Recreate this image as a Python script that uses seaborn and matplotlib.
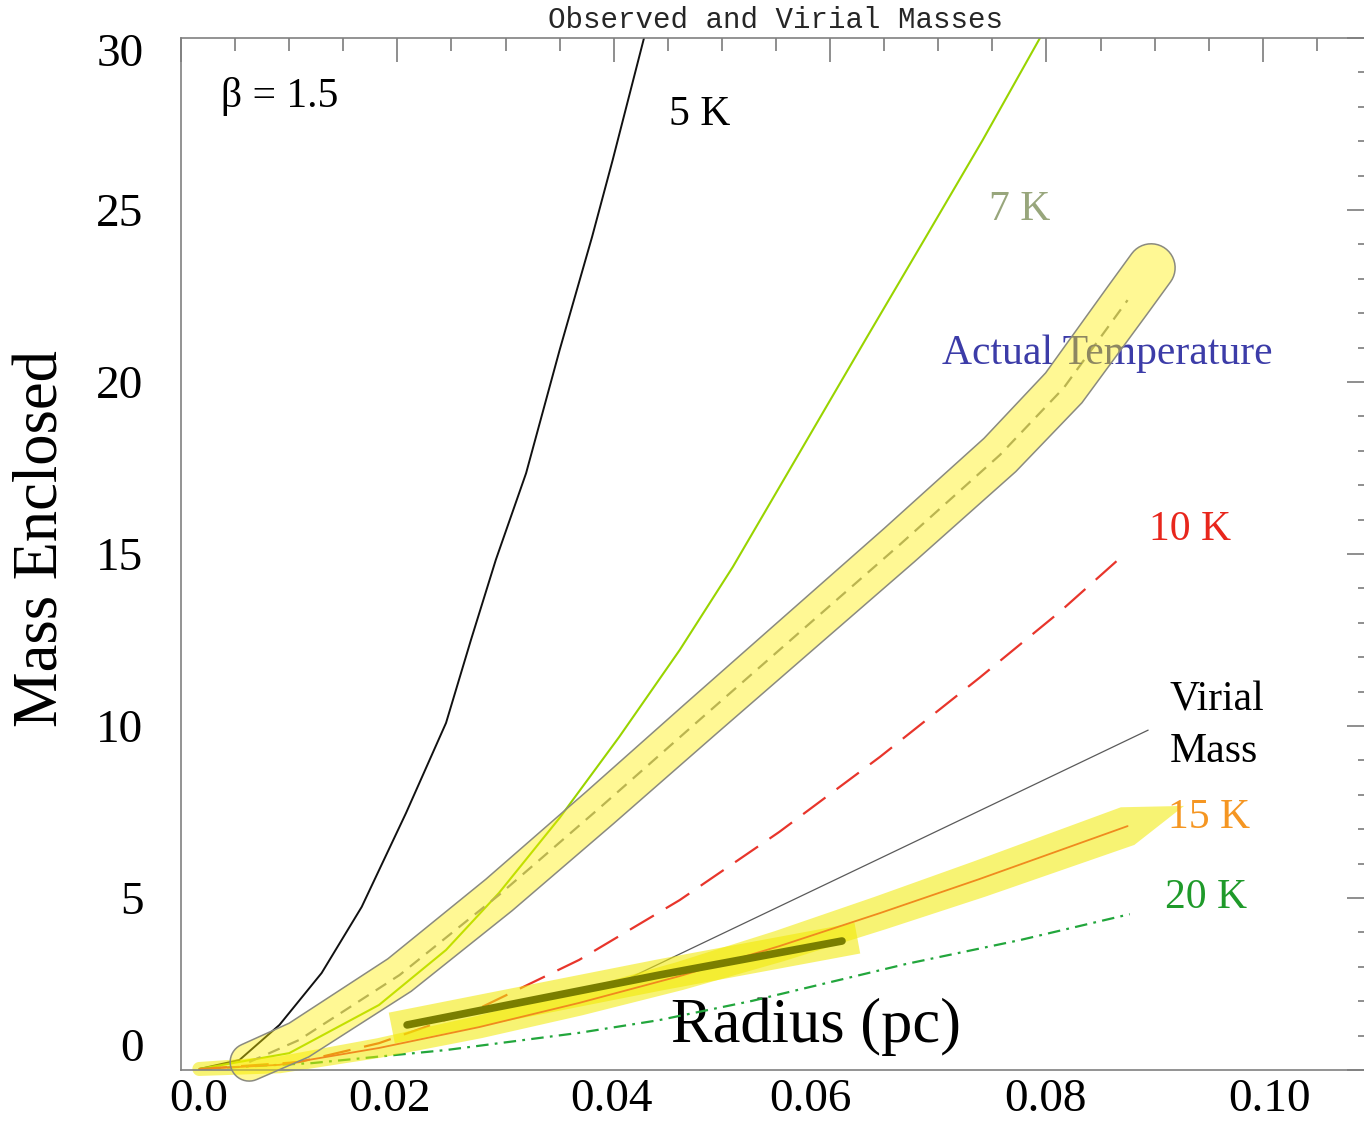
import numpy as np
import pandas as pd
import matplotlib
matplotlib.use("Agg")
import matplotlib.pyplot as plt
import seaborn as sns
from matplotlib.patches import Polygon
from matplotlib.ticker import MultipleLocator
from matplotlib.transforms import ScaledTranslation

# ---- enclosed mass vs radius for several assumed temperatures (beta = 1.5) ----
r_5k = [0.0017, 0.0054, 0.0091, 0.0130, 0.0167, 0.0208, 0.0245, 0.0268, 0.0291, 0.0319, 0.0350, 0.0380, 0.0399, 0.0428]
m_5k = [0.03, 0.29, 1.31, 2.82, 4.74, 7.47, 10.09, 12.50, 14.83, 17.35, 20.93, 24.22, 26.45, 30.0]

r_7k = [0.0017, 0.0100, 0.0183, 0.0245, 0.0294, 0.0350, 0.0405, 0.0461, 0.0510, 0.0572, 0.0634, 0.0689, 0.0741, 0.0794]
m_7k = [0.03, 0.49, 1.89, 3.49, 5.15, 7.33, 9.68, 12.21, 14.62, 17.96, 21.30, 24.24, 27.03, 30.0]

r_actual = [0.0063, 0.0109, 0.0202, 0.0294, 0.0387, 0.0479, 0.0572, 0.0664, 0.0757, 0.0816, 0.0875]
m_actual = [0.23, 0.87, 2.76, 5.09, 7.62, 10.17, 12.73, 15.26, 17.88, 19.83, 22.38]

r_10k = [0.0017, 0.0109, 0.0183, 0.0276, 0.0368, 0.0461, 0.0553, 0.0646, 0.0738, 0.0812, 0.0869]
m_10k = [0.03, 0.23, 0.78, 1.80, 3.20, 4.94, 6.92, 9.10, 11.40, 13.31, 14.91]

r_15k = [0.0017, 0.0091, 0.0183, 0.0276, 0.0368, 0.0461, 0.0553, 0.0646, 0.0738, 0.0875]
m_15k = [0.03, 0.15, 0.64, 1.25, 1.95, 2.73, 3.60, 4.56, 5.55, 7.09]

r_20k = [0.0017, 0.0121, 0.0245, 0.0368, 0.0442, 0.0528, 0.0670, 0.0776, 0.0877]
m_20k = [0.03, 0.20, 0.58, 1.08, 1.45, 2.01, 3.08, 3.78, 4.53]

r_virial = [0.0401, 0.0646, 0.0894]
m_virial = [2.47, 6.15, 9.88]

r_observed = [0.0209, 0.0442, 0.0611]
m_observed = [1.31, 2.76, 3.75]

x_ticks = [0.0, 0.02, 0.04, 0.06, 0.08, 0.10]
x_tick_labels = ["0.0", "0.02", "0.04", "0.06", "0.08", "0.10"]
y_ticks = [0, 5, 10, 15, 20, 25, 30]
y_tick_labels = ["0", "5", "10", "15", "20", "25", "30"]

# ---- style ----
sns.set_theme(style="white")
plt.rcParams["font.family"] = ["Liberation Serif", "DejaVu Serif"]
plt.rcParams["lines.scale_dashes"] = False

W, H = 1364, 1132
fig = plt.figure(figsize=(W / 100, H / 100), dpi=100, facecolor="white")
ax = fig.add_axes([181 / W, (H - 1070) / H, (1371 - 181) / W, (1070 - 38) / H])
ax.set_facecolor("white")
ax.set_xlim(0.0, 0.11)
ax.set_ylim(0.0, 30.0)

axis_grey = "#808080"
for side in ("left", "top", "bottom"):
    ax.spines[side].set_color(axis_grey)
    ax.spines[side].set_linewidth(1.2)
ax.spines["right"].set_visible(False)

ax.set_xticks(x_ticks, labels=x_tick_labels)
ax.set_yticks(y_ticks, labels=y_tick_labels)
ax.xaxis.set_minor_locator(MultipleLocator(0.005))
ax.yaxis.set_minor_locator(MultipleLocator(1))
ax.tick_params(which="both", direction="in", top=True, right=True,
               color="#707070", width=1.1, labelcolor="black", labelsize=34)
ax.tick_params(which="major", length=17.5)
ax.tick_params(which="minor", length=9.5)
ax.tick_params(axis="x", pad=6)
ax.tick_params(axis="y", pad=27)


def ribbon(ax, x, y, width, ext_start=0.0, ext_end=0.0, tip=0.0):
    """Outline (in data units) of a band of `width` pixels following a curve."""
    pts = ax.transData.transform(np.column_stack([x, y]))
    d = np.gradient(pts, axis=0)
    t = d / np.hypot(d[:, 0], d[:, 1])[:, None]
    w = np.broadcast_to(np.asarray(width, float), (len(pts),)).copy()
    if ext_start > 0:
        pts = np.vstack([pts[0] - t[0] * ext_start, pts])
        t = np.vstack([t[0], t])
        w = np.concatenate([[w[0]], w])
    if ext_end > 0:
        pts = np.vstack([pts, pts[-1] + t[-1] * ext_end])
        t = np.vstack([t, t[-1]])
        w = np.concatenate([w, [w[-1]]])
    nrm = np.column_stack([-t[:, 1], t[:, 0]])
    h = w / 2
    upper = pts + nrm * h[:, None]
    lower = pts - nrm * h[:, None]

    def arc(c, v, r):
        a0 = np.arctan2(v[1], v[0])
        a = np.linspace(a0, a0 - np.pi, 24)
        return c + r * np.column_stack([np.cos(a), np.sin(a)])

    cap_end = (pts[-1] + t[-1] * tip)[None, :] if tip > 0 else arc(pts[-1], nrm[-1], h[-1])
    cap_start = arc(pts[0], -nrm[0], h[0])
    outline = np.vstack([upper, cap_end, lower[::-1], cap_start])
    return ax.transData.inverted().transform(outline)


def curve(r, m, **kw):
    df = pd.DataFrame({"radius": r, "mass": m})
    sns.lineplot(data=df, x="radius", y="mass", ax=ax, estimator=None,
                 sort=False, legend=False, **kw)


# model curves
curve(r_5k, m_5k, color="#111111", lw=1.4)
curve(r_7k, m_7k, color="#99d400", lw=1.5)
curve(r_actual, m_actual, color="#8a8a8a", lw=1.6, linestyle=(0, (9, 6)))
curve(r_10k, m_10k, color="#e8352b", lw=1.6, linestyle=(0, (20, 10)))
curve(r_20k, m_20k, color="#22a63c", lw=1.6, linestyle=(0, (9, 4.5, 2, 4.5)))
curve(r_virial, m_virial, color="#5a5a5a", lw=0.9)

# highlight around the observed mass profile
curve(r_observed, m_observed, color="#f2ea10", alpha=0.6, lw=22.5,
      solid_capstyle="projecting", zorder=2.1)
# highlight around the 15 K curve
band15 = ribbon(ax, r_15k, m_15k, np.linspace(14, 40, len(r_15k)), tip=60)
ax.add_patch(Polygon(band15, closed=True, facecolor="#f2ea00", alpha=0.55,
                     edgecolor="none", zorder=2.1, clip_on=False))

curve(r_15k, m_15k, color="#f08a1e", lw=1.3, zorder=2.3)
curve(r_observed, m_observed, color="#7a7e00", lw=5.5, zorder=2.4)

# annotations
txt = dict(fontsize=30, ha="left", va="center", zorder=2.5)
ax.text(0.0037, 28.3, "β = 1.5", color="black", **txt)
ax.text(0.0451, 27.76, "5 K", color="black", **txt)
ax.text(0.0747, 25.0, "7 K", color="#98a67c", **txt)
ax.text(0.0703, 20.81, "Actual Temperature", color="#3c3ca8", **txt)
ax.text(0.0895, 15.70, "10 K", color="#e8261c", **txt)
ax.text(0.0914, 10.76, "Virial", color="black", **txt)
ax.text(0.0914, 9.24, "Mass", color="black", **txt)
ax.text(0.0912, 7.33, "15 K", color="#f59622", **txt)
ax.text(0.0910, 5.0, "20 K", color="#1f9a2a", **txt)

# highlight around the actual-temperature profile (drawn over its label)
band_act = ribbon(ax, r_actual, m_actual, np.linspace(38, 48, len(r_actual)),
                  ext_end=40)
ax.add_patch(Polygon(band_act, closed=True, facecolor=(1.0, 0.94, 0.0, 0.42),
                     edgecolor="#8a8a80", linewidth=1.1, zorder=3, clip_on=False))

# axis labels and title
ax.set_xlabel("Radius (pc)", fontsize=45, color="black")
ax.xaxis.label.set_va("baseline")
ax.xaxis.set_label_coords(0.5336, 0.0271)
ax.set_ylabel("Mass Enclosed", fontsize=45, color="black")
ax.yaxis.label.set_va("center")
ax.yaxis.set_label_coords(-0.1168, 0.5145)
ax.set_title("Observed and Virial Masses", fontsize=21,
             fontfamily=["Liberation Mono", "DejaVu Sans Mono"], pad=7)

# small horizontal shifts of the radius labels, vertical shifts of the end mass labels
x_shift_px = [18, -8, -2, -20, -1, 7]
for lbl, dx in zip(ax.get_xticklabels(), x_shift_px):
    lbl.set_transform(lbl.get_transform()
                      + ScaledTranslation(dx / 100, 0, fig.dpi_scale_trans))
ylabels = ax.get_yticklabels()
ylabels[0].set_transform(ylabels[0].get_transform()
                         + ScaledTranslation(0, 0.25, fig.dpi_scale_trans))
ylabels[-1].set_transform(ylabels[-1].get_transform()
                          + ScaledTranslation(0, -0.12, fig.dpi_scale_trans))

fig.savefig("out.png", dpi=100, facecolor="white")
